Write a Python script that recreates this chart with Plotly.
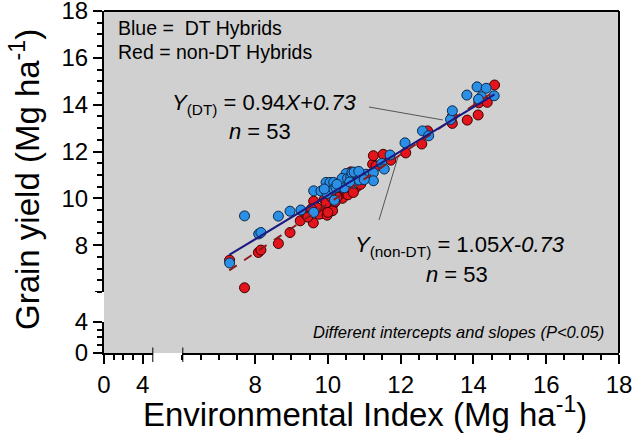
import plotly.graph_objects as go

# ---------------- data ----------------
dt_x = [7.30, 7.71, 8.10, 8.16, 8.64, 8.96, 9.26, 9.61, 9.61, 9.81,
        9.98, 9.95, 10.06, 10.16, 10.18, 10.36, 10.50, 10.40, 10.50, 10.39,
        10.54, 10.63, 10.72, 10.66, 10.72, 10.91, 11.05, 11.25, 11.25, 11.48,
        11.55, 11.71, 12.12, 12.60, 12.77, 13.37, 13.42, 13.82, 14.10, 14.35,
        14.22, 14.14, 14.57, 10.16, 10.68, 10.45, 10.22, 10.86, 10.60, 10.85,
        11.00, 10.25, 9.90]
dt_y = [7.24, 9.25, 8.48, 8.54, 9.24, 9.45, 9.50, 9.40, 10.32, 10.31,
        10.21, 10.68, 10.68, 10.68, 9.92, 10.49, 10.56, 10.82, 11.06, 10.85,
        10.85, 10.92, 10.81, 11.09, 11.12, 10.99, 11.03, 11.09, 10.75, 11.49,
        11.25, 11.85, 12.37, 12.88, 12.67, 13.37, 13.74, 14.41, 14.76, 14.70,
        14.34, 14.23, 14.38, 10.40, 10.64, 10.45, 10.47, 10.78, 10.70, 11.15,
        10.80, 10.60, 10.40]

ndt_x = [7.30, 7.71, 8.09, 8.16, 8.64, 8.96, 9.24, 9.60, 9.61, 9.90,
         10.13, 10.04, 10.13, 9.85, 9.76, 9.98, 10.40, 10.36, 10.50, 10.27,
         10.72, 10.45, 10.63, 11.23, 11.32, 11.25, 11.52, 11.73, 12.14, 12.58,
         12.74, 13.42, 13.83, 14.13, 14.15, 14.38, 14.58, 13.42, 9.95, 10.20,
         10.55, 10.80, 10.00, 10.25, 9.70, 10.90, 11.00, 10.60, 9.40, 10.10,
         9.55, 10.70, 9.45]
ndt_y = [7.36, 6.18, 7.69, 7.79, 8.07, 8.54, 9.04, 8.95, 9.88, 9.95,
         9.71, 9.57, 9.47, 9.35, 9.32, 9.28, 10.00, 10.21, 10.28, 10.35,
         10.39, 10.38, 11.13, 11.46, 11.38, 11.82, 11.88, 11.63, 11.94, 12.32,
         12.88, 13.20, 13.34, 13.56, 14.08, 14.10, 14.84, 13.50, 9.80, 9.85,
         10.15, 10.50, 9.40, 10.05, 9.60, 10.60, 10.95, 10.45, 9.30, 10.05,
         9.55, 10.25, 9.20]

dt_slope, dt_intercept = 0.94, 0.73
ndt_slope, ndt_intercept = 1.05, -0.73
fit_x = [7.29, 14.58]

x_main_ticks = [8, 10, 12, 14, 16, 18]
x_main_labels = ["8", "10", "12", "14", "16", "18"]
y_main_ticks = [8, 10, 12, 14, 16, 18]
y_main_labels = ["8", "10", "12", "14", "16", "18"]
x_low_ticks = [0, 4]
x_low_labels = ["0", "4"]
y_low_ticks = [0, 4]
y_low_labels = ["0", "4"]

# ---------------- layout helpers ----------------
W, H = 634, 437
L, R, T, B = 104, 15, 11, 84   # plot box 104..619 x 11..353
PW, PH = W - L - R, H - T - B


def px(x):   # screen pixel -> paper x
    return (x - L) / PW


def py(y):   # screen pixel -> paper y
    return (H - B - y) / PH


FONT = "Arial, Liberation Sans, sans-serif"
BLUE = "#2b8fe6"
RED = "#e3141c"

fit_dt_y = [dt_slope * v + dt_intercept for v in fit_x]
fit_ndt_y = [ndt_slope * v + ndt_intercept for v in fit_x]

fig = go.Figure()
fig.add_trace(go.Scatter(x=ndt_x, y=ndt_y, mode="markers",
                         marker=dict(size=10, color=RED, line=dict(color="#3a0000", width=1)),
                         showlegend=False, cliponaxis=False))
fig.add_trace(go.Scatter(x=dt_x, y=dt_y, mode="markers",
                         marker=dict(size=10, color=BLUE, line=dict(color="#0a2a4a", width=1)),
                         showlegend=False, cliponaxis=False))
fig.add_trace(go.Scatter(x=fit_x, y=fit_ndt_y, mode="lines",
                         line=dict(color="#8b1a1a", width=2, dash="dash"), showlegend=False))
fig.add_trace(go.Scatter(x=fit_x, y=fit_dt_y, mode="lines",
                         line=dict(color="#1a1a80", width=2), showlegend=False))
# placeholder trace so the lower axis segments are drawn
fig.add_trace(go.Scatter(x=[None], y=[None], xaxis="x2", yaxis="y2", showlegend=False))

axis_common = dict(showline=True, linecolor="black", linewidth=2, ticks="outside",
                   ticklen=9, tickwidth=2, tickcolor="black", showgrid=False, zeroline=False,
                   tickfont=dict(family=FONT, size=24, color="black"), tickmode="array",
                   automargin=False, ticklabeloverflow="allow")

fig.update_layout(
    width=W, height=H, margin=dict(l=L, r=R, t=T, b=B, autoexpand=False),
    paper_bgcolor="white", plot_bgcolor="rgba(0,0,0,0)",
    xaxis=dict(domain=[px(182.3), 1], range=[6, 18], anchor="y2",
               tickvals=x_main_ticks, ticktext=x_main_labels,
               minor=dict(dtick=0.5, tick0=6, ticks="outside", ticklen=5, tickwidth=1.5,
                          tickcolor="black"), **axis_common),
    yaxis=dict(domain=[py(292), 1], range=[6, 18], anchor="x2",
               tickvals=y_main_ticks, ticktext=y_main_labels,
               minor=dict(dtick=0.5, tick0=6, ticks="outside", ticklen=5, tickwidth=1.5,
                          tickcolor="black"), **axis_common),
    xaxis2=dict(domain=[0, px(153.3)], range=[0, 5.1], anchor="y2",
                tickvals=x_low_ticks, ticktext=x_low_labels,
                minor=dict(tickmode="array", tickvals=[1, 2, 3], ticks="outside", ticklen=5,
                           tickwidth=1.5, tickcolor="black"), **axis_common),
    yaxis2=dict(domain=[0, py(321.7)], range=[0, 4], anchor="x2",
                tickvals=y_low_ticks, ticktext=y_low_labels,
                minor=dict(tickmode="array", tickvals=[1, 2, 3], ticks="outside", ticklen=5,
                           tickwidth=1.5, tickcolor="black"), **axis_common),
)

tick_h = 9 / PH
tick_w = 9 / PW
shapes = [
    dict(type="rect", xref="paper", yref="paper", x0=0, x1=1, y0=0, y1=1,
         fillcolor="#d0d0d0", line=dict(width=0), layer="below"),
    dict(type="line", xref="paper", yref="paper", x0=0, x1=1, y0=1, y1=1,
         line=dict(color="black", width=2)),
    dict(type="line", xref="paper", yref="paper", x0=1, x1=1, y0=0, y1=1,
         line=dict(color="black", width=2)),
    # end caps of the broken axes
    dict(type="line", xref="x", yref="paper", x0=6, x1=6, y0=tick_h * 0.6, y1=-tick_h,
         line=dict(color="black", width=2)),
    dict(type="line", xref="x2", yref="paper", x0=5.1, x1=5.1, y0=tick_h * 0.6, y1=-tick_h,
         line=dict(color="black", width=2)),
    dict(type="line", xref="paper", yref="y", x0=-tick_w, x1=0, y0=6, y1=6,
         line=dict(color="black", width=2)),
    # connector lines
    dict(type="line", xref="paper", yref="paper", x0=px(369), x1=px(443), y0=py(107), y1=py(120),
         line=dict(color="#555555", width=1)),
    dict(type="line", xref="paper", yref="paper", x0=px(398), x1=px(379), y0=py(157), y1=py(220),
         line=dict(color="#555555", width=1)),
]
fig.update_layout(shapes=shapes)


def ann(text, x, y, size, xanchor="left", angle=0):
    return dict(text=text, x=px(x), y=py(y), xref="paper", yref="paper", showarrow=False,
                xanchor=xanchor, yanchor="middle", textangle=angle,
                font=dict(family=FONT, size=size, color="black"))


annotations = [
    ann("Blue =  DT Hybrids", 116, 28, 19.5),
    ann("Red = non-DT Hybrids", 116, 52, 19.5),
    ann("<i>Y</i><sub>(DT)</sub> = 0.94<i>X+0.73</i>", 170, 104, 22),
    ann("<i>n</i> = 53", 260, 131, 22, xanchor="center"),
    ann("<i>Y</i><sub>(non-DT)</sub> = 1.05<i>X-0.73</i>", 353, 246, 22),
    ann("<i>n</i> = 53", 457, 274, 22, xanchor="center"),
    ann("<i>Different intercepts and slopes (P<0.05)</i>", 606, 332, 16.5, xanchor="right"),
    ann("Environmental Index (Mg ha<sup>-1</sup>)", 365, 412, 33, xanchor="center"),
    ann("Grain yield (Mg ha<sup>-1</sup>)", 25, 180, 33, xanchor="center", angle=-90),
]
fig.update_layout(annotations=annotations)

# remove the browser's default page margin so the figure sits at the window origin
fig.write_html("out.html", config={"displayModeBar": False},
               post_script="document.body.style.margin='0';")
